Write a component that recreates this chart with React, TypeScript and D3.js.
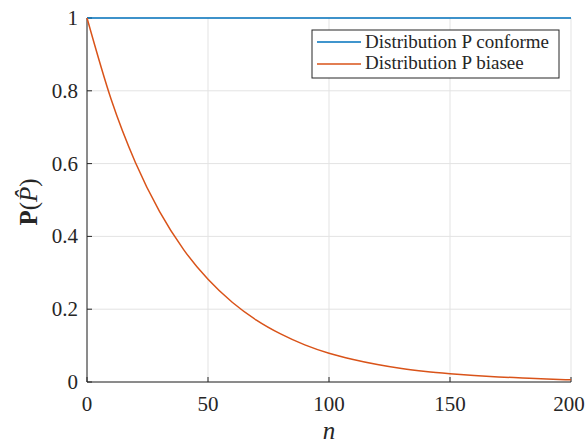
import React from 'react';
import * as d3 from 'd3';

const width = 587;
const height = 444;
const margin = {left: 87, right: 16, top: 18, bottom: 62};

// n values sampled along the curves
const nValues = [0, 10, 20, 30, 40, 50, 60, 70, 80, 90, 100, 110, 120, 130, 140, 150, 160, 170, 180, 190, 200];
const conformeValues = [1, 1, 1, 1, 1, 1, 1, 1, 1, 1, 1, 1, 1, 1, 1, 1, 1, 1, 1, 1, 1];
const biaseeValues = [1, 0.776, 0.603, 0.468, 0.363, 0.282, 0.219, 0.170, 0.132, 0.102, 0.079, 0.062, 0.048, 0.037, 0.029, 0.023, 0.018, 0.014, 0.011, 0.008, 0.006];

const xTicks = [0, 50, 100, 150, 200];
const yTicks = [0, 0.2, 0.4, 0.6, 0.8, 1];
const seriesNames = ['Distribution P conforme', 'Distribution P biasee'];
const seriesColors = ['#0072BD', '#D95319'];

const axisColor = '#262626';
const gridColor = '#e3e3e3';
const serif = {fontFamily: '"Liberation Serif", serif'};

export default function App() {
  const x = d3.scaleLinear().domain([0, 200]).range([margin.left, width - margin.right]);
  const y = d3.scaleLinear().domain([0, 1]).range([height - margin.bottom, margin.top]);

  const line = d3.line<number>()
    .x((_, i) => x(nValues[i]))
    .y(d => y(d))
    .curve(d3.curveMonotoneX);

  const series = [conformeValues, biaseeValues];

  const x0 = x(0), x1 = x(200), y0 = y(0), y1 = y(1);
  const legX = 312, legY = 30, legW = 247, legH = 48;

  return (
    <svg width={width} height={height}
         style={{position: 'absolute', left: 0, top: 0, background: '#fff'}}>
      {/* grid */}
      {xTicks.map(t => (
        <line key={'gx' + t} x1={x(t)} x2={x(t)} y1={y0} y2={y1} stroke={gridColor} strokeWidth={1}/>
      ))}
      {yTicks.map(t => (
        <line key={'gy' + t} x1={x0} x2={x1} y1={y(t)} y2={y(t)} stroke={gridColor} strokeWidth={1}/>
      ))}

      {/* axes */}
      <line x1={x0} x2={x0} y1={y0} y2={y1} stroke={axisColor} strokeWidth={1}/>
      <line x1={x0} x2={x1} y1={y0} y2={y0} stroke={axisColor} strokeWidth={1}/>
      {xTicks.map(t => (
        <g key={'tx' + t}>
          <line x1={x(t)} x2={x(t)} y1={y0} y2={y0 - 5} stroke={axisColor}/>
          <text x={Math.min(x(t), 569)} y={411} textAnchor="middle" fontSize={21} fill={axisColor} style={serif}>{t}</text>
        </g>
      ))}
      {yTicks.map(t => (
        <g key={'ty' + t}>
          <line x1={x0} x2={x0 + 5} y1={y(t)} y2={y(t)} stroke={axisColor}/>
          <text x={78} y={y(t) + 7} textAnchor="end" fontSize={21} fill={axisColor} style={serif}>{String(t)}</text>
        </g>
      ))}

      {/* lines */}
      {series.map((s, i) => (
        <path key={i} d={line(s) || ''} fill="none" stroke={seriesColors[i]} strokeWidth={1.5}/>
      ))}

      {/* labels */}
      <text x={329} y={439} textAnchor="middle" fontSize={25} fontStyle="italic" fill={axisColor} style={serif}>n</text>
      <text transform="translate(37,202) rotate(-90)" textAnchor="middle" fontSize={25} fill={axisColor} style={serif}>
        <tspan fontWeight="bold">P</tspan>
        <tspan>(</tspan>
        <tspan fontStyle="italic">P̂</tspan>
        <tspan>)</tspan>
      </text>

      {/* legend */}
      <rect x={legX} y={legY} width={legW} height={legH} fill="#fff" stroke={axisColor} strokeWidth={1}/>
      {seriesNames.map((name, i) => (
        <g key={name}>
          <line x1={317} x2={361} y1={42 + i * 22} y2={42 + i * 22} stroke={seriesColors[i]} strokeWidth={1.5}/>
          <text x={365} y={48 + i * 21} fontSize={19} fill={axisColor} style={serif}>{name}</text>
        </g>
      ))}
    </svg>
  );
}
